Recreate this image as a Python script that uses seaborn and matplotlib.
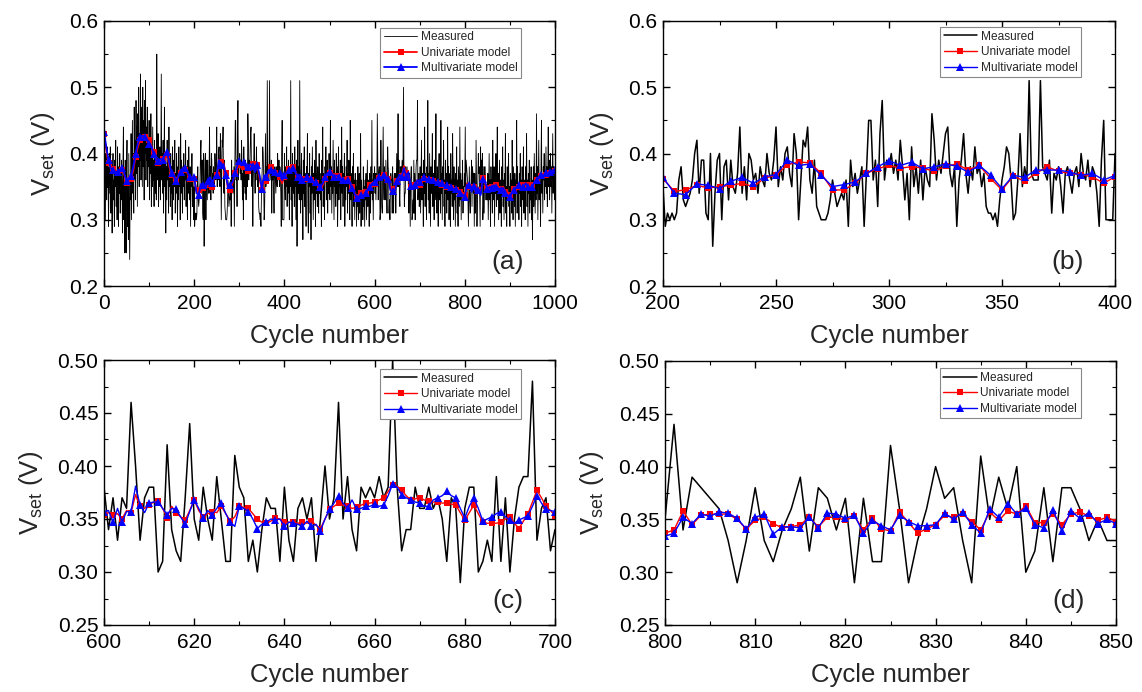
import numpy as np
import matplotlib
matplotlib.use('Agg')
import matplotlib.pyplot as plt
import seaborn as sns
from matplotlib.ticker import MultipleLocator, FormatStrFormatter

# ---------------- data (V_set in volts, one value per cycle) ----------------
meas_000_199 = [
    .43, .41, .36, .30, .40, .37, .33, .41, .35, .38, .29, .36, .40, .34, .41, .31, .38, .35, .28, .37,
    .40, .33, .36, .29, .39, .35, .42, .32, .37, .30, .41, .36, .29, .38, .34, .40, .31, .37, .33, .39,
    .35, .28, .38, .44, .30, .36, .25, .39, .33, .25, .37, .42, .29, .35, .27, .40, .31, .24, .36, .33,
    .43, .30, .38, .45, .34, .40, .31, .47, .36, .42, .33, .48, .37, .44, .32, .46, .38, .50, .35, .43,
    .39, .52, .36, .47, .41, .35, .50, .38, .45, .33, .48, .40, .51, .36, .44, .39, .47, .35, .42, .38,
    .45, .33, .41, .37, .46, .32, .40, .35, .44, .36, .39, .32, .42, .37, .34, .40, .33, .55, .38, .36,
    .43, .32, .39, .35, .41, .33, .38, .52, .36, .40, .34, .42, .31, .37, .47, .35, .40, .28, .38, .33,
    .42, .36, .39, .31, .44, .35, .37, .32, .40, .34, .38, .30, .41, .36, .33, .39, .35, .42, .31, .37,
    .34, .40, .36, .29, .38, .33, .41, .35, .37, .30, .43, .34, .39, .36, .31, .38, .35, .40, .33, .37,
    .36, .42, .32, .38, .35, .30, .39, .34, .41, .36, .33, .38, .29, .37, .35, .40, .32, .36, .34, .30]
meas_200_399 = [
    .35, .29, .31, .30, .31, .30, .31, .36, .38, .33, .32, .33, .34, .36, .40, .42, .34, .39, .39, .31,
    .30, .40, .26, .34, .39, .40, .30, .38, .39, .33, .39, .35, .34, .37, .44, .34, .38, .33, .40, .39,
    .36, .37, .34, .38, .36, .35, .40, .37, .36, .39, .44, .35, .38, .36, .40, .41, .37, .35, .43, .40,
    .30, .36, .42, .41, .44, .36, .34, .39, .32, .31, .30, .30, .30, .31, .33, .36, .34, .32, .33, .34,
    .33, .36, .29, .39, .35, .37, .34, .36, .38, .29, .37, .45, .45, .36, .39, .32, .43, .48, .36, .39,
    .38, .40, .37, .39, .36, .42, .38, .33, .37, .30, .41, .35, .38, .34, .39, .33, .38, .36, .35, .46,
    .42, .36, .39, .37, .40, .43, .44, .37, .35, .38, .29, .36, .39, .43, .37, .34, .38, .36, .41, .37,
    .38, .35, .37, .32, .31, .31, .30, .31, .29, .33, .36, .38, .41, .40, .36, .30, .31, .36, .43, .35,
    .38, .36, .51, .37, .36, .36, .36, .51, .38, .37, .36, .39, .31, .37, .36, .38, .35, .31, .37, .38,
    .36, .34, .37, .38, .35, .40, .37, .36, .39, .35, .38, .37, .34, .29, .39, .45, .30, .30, .30, .30]
meas_400_599 = [
    .40, .36, .33, .38, .35, .41, .32, .37, .34, .39, .36, .30, .38, .35, .51, .33, .37, .29, .40, .36,
    .34, .38, .32, .41, .35, .37, .30, .39, .26, .36, .42, .34, .38, .33, .51, .35, .31, .37, .40, .33,
    .36, .27, .39, .34, .41, .32, .37, .35, .29, .38, .36, .43, .33, .28, .37, .35, .40, .31, .36, .27,
    .38, .34, .41, .35, .30, .37, .33, .39, .36, .29, .42, .34, .37, .32, .38, .35, .31, .40, .34, .37,
    .33, .36, .29, .39, .35, .44, .32, .37, .34, .30, .38, .36, .41, .33, .35, .39, .31, .37, .34, .40,
    .36, .33, .45, .35, .38, .31, .37, .34, .42, .36, .30, .39, .35, .37, .32, .40, .34, .38, .29, .36,
    .41, .33, .37, .35, .39, .30, .36, .44, .34, .38, .32, .37, .35, .40, .29, .36, .33, .38, .35, .42,
    .31, .37, .34, .39, .36, .30, .45, .33, .37, .35, .29, .38, .34, .40, .32, .36, .30, .37, .33, .35,
    .29, .36, .32, .38, .30, .34, .37, .31, .35, .43, .29, .36, .33, .34, .30, .38, .32, .35, .29, .36,
    .33, .37, .30, .35, .39, .32, .36, .34, .29, .37, .35, .31, .38, .34, .45, .33, .36, .30, .37, .35]
meas_600_699 = [
    .38, .34, .37, .33, .37, .36, .46, .40, .33, .37, .38, .38, .30, .31, .42, .34, .32, .31, .37, .44,
    .35, .33, .38, .35, .33, .39, .35, .31, .31, .41, .38, .37, .31, .33, .30, .34, .37, .36, .36, .31,
    .38, .33, .31, .36, .37, .35, .37, .31, .35, .40, .35, .37, .46, .35, .39, .34, .32, .38, .37, .38,
    .37, .39, .37, .38, .50, .38, .32, .34, .34, .38, .36, .36, .38, .36, .37, .35, .31, .37, .36, .29,
    .36, .38, .38, .30, .31, .33, .31, .39, .31, .37, .30, .35, .38, .39, .39, .48, .33, .36, .37, .32]
meas_700_799 = [
    .34, .38, .31, .36, .42, .33, .37, .35, .29, .39, .34, .44, .32, .37, .35, .30, .38, .36, .48, .33,
    .37, .31, .40, .35, .29, .38, .34, .36, .43, .32, .37, .35, .30, .39, .33, .36, .46, .34, .31, .38,
    .35, .29, .37, .40, .33, .36, .31, .45, .34, .37, .30, .38, .35, .42, .32, .36, .29, .39, .34, .37,
    .31, .36, .44, .33, .38, .30, .35, .37, .29, .40, .34, .36, .32, .43, .35, .30, .38, .33, .36, .29,
    .37, .34, .41, .31, .36, .29, .38, .35, .32, .44, .33, .37, .30, .36, .34, .39, .31, .35, .33, .37]
meas_800_859 = [
    .35, .44, .34, .39, .38, .37, .36, .33, .29, .33, .38, .33, .31, .34, .36, .39, .32, .38, .37, .34,
    .37, .29, .37, .31, .31, .42, .36, .29, .33, .36, .40, .37, .38, .33, .29, .41, .35, .39, .36, .40,
    .30, .32, .38, .31, .38, .38, .36, .33, .35, .33, .33, .37, .30, .35, .40, .33, .36, .29, .38, .34]
meas_860_1000 = [
    .36, .31, .42, .35, .33, .38, .29, .37, .34, .40, .32, .36, .44, .33, .37, .30, .35, .39, .31, .36,
    .34, .29, .38, .35, .41, .32, .36, .30, .37, .34, .43, .31, .35, .29, .38, .33, .36, .40, .32, .35,
    .29, .37, .33, .36, .31, .42, .34, .30, .38, .35, .32, .37, .29, .36, .34, .45, .31, .38, .33, .35,
    .30, .37, .34, .40, .32, .36, .29, .38, .35, .33, .41, .31, .36, .34, .30, .38, .35, .43, .32, .36,
    .29, .37, .34, .39, .31, .35, .33, .38, .30, .36, .27, .34, .38, .32, .40, .35, .31, .37, .33, .46,
    .34, .38, .30, .36, .42, .33, .37, .35, .29, .39, .45, .34, .37, .31, .38, .36, .40, .33, .37, .35,
    .41, .34, .38, .32, .37, .44, .35, .39, .33, .36, .40, .35, .38, .31, .37, .43, .34, .38, .36, .33,
    .38]

# model predictions sampled every 5 cycles (0, 5, ..., 1000)
multi_5 = [
    .433, .41, .39, .377, .375, .372, .372, .375, .378, .37, .358, .362, .366, .38, .40, .415, .425, .427, .425, .42,
    .415, .41, .40, .39, .388, .392, .39, .398, .402, .385, .37, .365, .358, .365, .372, .378, .378, .372, .365, .36,
    .364, .34, .338, .354, .352, .347, .358, .364, .355, .365, .368, .39, .382, .384, .367, .35, .353, .357, .37, .38,
    .389, .382, .387, .377, .38, .384, .381, .372, .382, .367, .347, .367, .364, .375, .375, .375, .372, .367, .37, .36,
    .367,
    .37, .375, .372, .378, .37, .365, .368, .36, .362, .365, .36, .362, .355, .357, .352, .35, .355, .365, .37, .372,
    .368, .365, .367, .365, .362, .36, .358, .36, .355, .348, .34, .333, .335, .338, .335, .34, .345, .35, .355,
    .357, .357, .365, .36, .368, .36, .362, .345, .343, .343, .359, .368, .364, .378, .365, .372, .351, .35, .352, .36, .357,
    .36, .365, .36, .362, .358, .36, .355, .357, .352, .355, .35, .352, .348, .35, .345, .347, .343, .34, .338,
    .334, .353, .352, .342, .351, .340, .345, .337, .361, .357, .346,
    .35, .348, .352, .35, .347, .345, .348, .34, .337, .335, .34, .345, .35, .352, .348, .35, .355, .35, .345, .35,
    .358, .36, .365, .368, .365, .37, .368, .372, .375, .375]
uni_5 = [
    .43, .405, .385, .378, .376, .374, .37, .372, .375, .368, .355, .36, .362, .375, .395, .41, .42, .423, .425, .425,
    .42, .412, .402, .392, .385, .39, .392, .395, .398, .38, .368, .362, .36, .367, .37, .375, .375, .37, .362, .358,
    .362, .343, .345, .352, .348, .35, .352, .355, .35, .363, .367, .383, .387, .386, .37, .345, .345, .355, .37, .377,
    .382, .378, .38, .378, .373, .381, .384, .375, .382, .362, .345, .366, .358, .37, .38, .373, .37, .368, .365, .355,
    .365,
    .372, .377, .375, .38, .372, .363, .366, .362, .36, .362, .357, .36, .353, .355, .35, .348, .352, .362, .368, .37,
    .37, .366, .368, .366, .363, .36, .358, .362, .358, .35, .342, .335, .336, .34, .336, .342, .347, .352, .356,
    .354, .358, .363, .362, .368, .356, .362, .347, .347, .347, .359, .363, .366, .381, .37, .366, .349, .346, .352, .36, .353,
    .358, .362, .36, .36, .356, .358, .357, .355, .354, .353, .351, .35, .35, .348, .347, .345, .344, .342, .34,
    .337, .355, .349, .345, .349, .339, .345, .340, .363, .355, .348,
    .352, .35, .35, .352, .348, .347, .35, .342, .34, .338, .342, .347, .35, .35, .35, .352, .355, .352, .347, .352,
    .356, .36, .362, .366, .364, .368, .37, .37, .372, .374]

# model predictions for every cycle, 600..700 and 800..850
multi_600_700 = [
    .357, .358, .347, .36, .347, .357, .357, .381, .363, .356, .365, .366, .366, .36, .354, .36, .359, .352, .345, .357,
    .368, .36, .351, .358, .354, .36, .365, .355, .347, .343, .362, .36, .357, .35, .341, .345, .347, .35, .349, .35,
    .343, .347, .346, .345, .343, .348, .343, .345, .339, .35, .359, .365, .372, .365, .36, .368, .359, .36, .362, .362,
    .364, .362, .363, .372, .383, .38, .373, .37, .368, .366, .365, .362, .362, .368, .37, .372, .376, .372, .37, .36,
    .351, .362, .37, .36, .348, .35, .352, .355, .357, .352, .349, .346, .349, .351, .353, .362, .372, .365, .359, .358,
    .357]
uni_600_700 = [
    .354, .356, .354, .355, .350, .358, .356, .373, .362, .36, .363, .366, .367, .36, .351, .362, .356, .352, .349, .358,
    .368, .358, .352, .355, .357, .356, .362, .355, .348, .352, .362, .361, .36, .355, .35, .347, .346, .348, .351, .35,
    .347, .347, .347, .346, .347, .346, .348, .344, .341, .35, .359, .362, .365, .363, .362, .36, .361, .363, .365, .365,
    .366, .368, .37, .376, .382, .381, .377, .372, .368, .369, .37, .368, .367, .366, .366, .365, .365, .364, .363, .356,
    .349, .356, .363, .355, .347, .346, .346, .346, .347, .35, .352, .346, .341, .348, .355, .366, .377, .37, .362, .358,
    .353]
multi_800_850 = [
    .334, .337, .352, .346, .355, .353, .357, .356, .351, .341, .352, .355, .336, .343, .343, .342, .352, .342, .356, .355,
    .351, .354, .337, .349, .344, .340, .354, .348, .344, .344, .345, .356, .350, .357, .345, .337, .360, .352, .365, .355,
    .361, .345, .342, .359, .339, .358, .351, .356, .346, .350, .346]
uni_800_850 = [
    .337, .34, .358, .345, .354, .355, .355, .355, .35, .341, .349, .352, .346, .342, .343, .345, .352, .343, .352, .352,
    .349, .353, .340, .351, .341, .339, .357, .347, .337, .341, .345, .354, .352, .355, .348, .340, .357, .349, .358, .355,
    .363, .347, .347, .355, .345, .355, .357, .353, .349, .352, .348]

series_names = ['Measured', 'Univariate model', 'Multivariate model']
panel_tags = ['(a)', '(b)', '(c)', '(d)']
x_title = 'Cycle number'
y_title = r'$\mathregular{V_{set}}$ (V)'

measured = np.array(meas_000_199 + meas_200_399 + meas_400_599 + meas_600_699 +
                    meas_700_799 + meas_800_859 + meas_860_1000)
cyc = np.arange(len(measured))
cyc5 = np.arange(len(multi_5)) * 5
cyc_c = np.arange(len(multi_600_700)) + 600
cyc_d = np.arange(len(multi_800_850)) + 800

# ---------------- style ----------------
sns.set_theme(style='ticks')
plt.rcParams['font.family'] = ['Liberation Sans', 'DejaVu Sans']
plt.rcParams['mathtext.fontset'] = 'custom'
plt.rcParams['mathtext.rm'] = 'Liberation Sans'
plt.rcParams['mathtext.it'] = 'Liberation Sans:italic'
plt.rcParams['axes.linewidth'] = 1.0
plt.rcParams['axes.edgecolor'] = 'black'

W, H = 1142, 692
fig = plt.figure(figsize=(W / 100, H / 100), dpi=100)

def add_ax(l, t, r, b):
    return fig.add_axes([l / W, 1 - b / H, (r - l) / W, (b - t) / H])

u5 = np.asarray(uni_5)
m5 = np.asarray(multi_5)
sel_b = (cyc5 >= 200) & (cyc5 <= 400)

panels = [
    dict(box=(104, 21, 555, 286), xr=(0, 1000), yr=(0.2, 0.6), xmaj=200, ymaj=0.1, yfmt='%.1f',
         mx=cyc5, mu=u5, mm=m5, every=2, mlw=0.6, modlw=1.3, ms_s=4.6, ms_t=6.2, leg=(0.925, 0.975)),
    dict(box=(663, 21, 1115, 286), xr=(200, 400), yr=(0.2, 0.6), xmaj=50, ymaj=0.1, yfmt='%.1f',
         mx=cyc5[sel_b], mu=u5[sel_b], mm=m5[sel_b], every=1, mlw=1.1, modlw=1.0, ms_s=4.6, ms_t=6.0,
         leg=(0.925, 0.977)),
    dict(box=(104, 360, 555, 625), xr=(600, 700), yr=(0.25, 0.5), xmaj=20, ymaj=0.05, yfmt='%.2f',
         mx=cyc_c, mu=np.asarray(uni_600_700), mm=np.asarray(multi_600_700), every=2, mlw=1.1, modlw=1.0,
         ms_s=4.6, ms_t=6.0, leg=(0.925, 0.966)),
    dict(box=(665, 361, 1116, 625), xr=(800, 850), yr=(0.25, 0.5), xmaj=10, ymaj=0.05, yfmt='%.2f',
         mx=cyc_d, mu=np.asarray(uni_800_850), mm=np.asarray(multi_800_850), every=1, mlw=1.1, modlw=1.0,
         ms_s=4.6, ms_t=6.0, leg=(0.922, 0.973)),
]

for p, tag in zip(panels, panel_tags):
    ax = add_ax(*p['box'])
    lo, hi = p['xr']
    sel = (cyc >= lo) & (cyc <= hi)
    sns.lineplot(x=cyc[sel], y=measured[sel], ax=ax, color='black', lw=p['mlw'],
                 label=series_names[0], estimator=None, sort=False)
    sns.lineplot(x=p['mx'], y=p['mu'], ax=ax, color='#ff0000', lw=p['modlw'], marker='s',
                 markersize=p['ms_s'], markeredgewidth=0, markevery=p['every'],
                 label=series_names[1], estimator=None, sort=False)
    sns.lineplot(x=p['mx'], y=p['mm'], ax=ax, color='#0000ff', lw=p['modlw'], marker='^',
                 markersize=p['ms_t'], markeredgewidth=0, markevery=p['every'],
                 label=series_names[2], estimator=None, sort=False)
    ax.set_xlim(*p['xr'])
    ax.set_ylim(*p['yr'])
    ax.xaxis.set_major_locator(MultipleLocator(p['xmaj']))
    ax.xaxis.set_minor_locator(MultipleLocator(p['xmaj'] / 2))
    ax.yaxis.set_major_locator(MultipleLocator(p['ymaj']))
    ax.yaxis.set_minor_locator(MultipleLocator(p['ymaj'] / 2))
    ax.yaxis.set_major_formatter(FormatStrFormatter(p['yfmt']))
    ax.tick_params(which='both', direction='in', top=True, right=True, colors='black')
    ax.tick_params(which='major', length=5, width=1, labelsize=15)
    ax.tick_params(axis='x', which='major', pad=6)
    ax.tick_params(axis='y', which='major', pad=4)
    ax.tick_params(which='minor', length=3, width=0.8)
    for s in ax.spines.values():
        s.set_visible(True)
        s.set_color('black')
        s.set_linewidth(1.0)
    ax.set_xlabel(x_title, fontsize=18.5, labelpad=8)
    ax.set_ylabel(y_title, fontsize=18.5, labelpad=9)
    leg = ax.legend(loc='upper right', bbox_to_anchor=p['leg'], borderaxespad=0,
                    prop={'family': ['Liberation Sans'], 'size': 8.6},
                    frameon=True, fancybox=False, framealpha=1, edgecolor='#888888',
                    handlelength=2.8, handletextpad=0.3, labelspacing=0.3, borderpad=0.3)
    leg.get_frame().set_linewidth(0.8)
    ax.text(0.93, 0.045, tag, transform=ax.transAxes, ha='right', va='bottom', fontsize=19)

fig.savefig('out.png', dpi=100)
